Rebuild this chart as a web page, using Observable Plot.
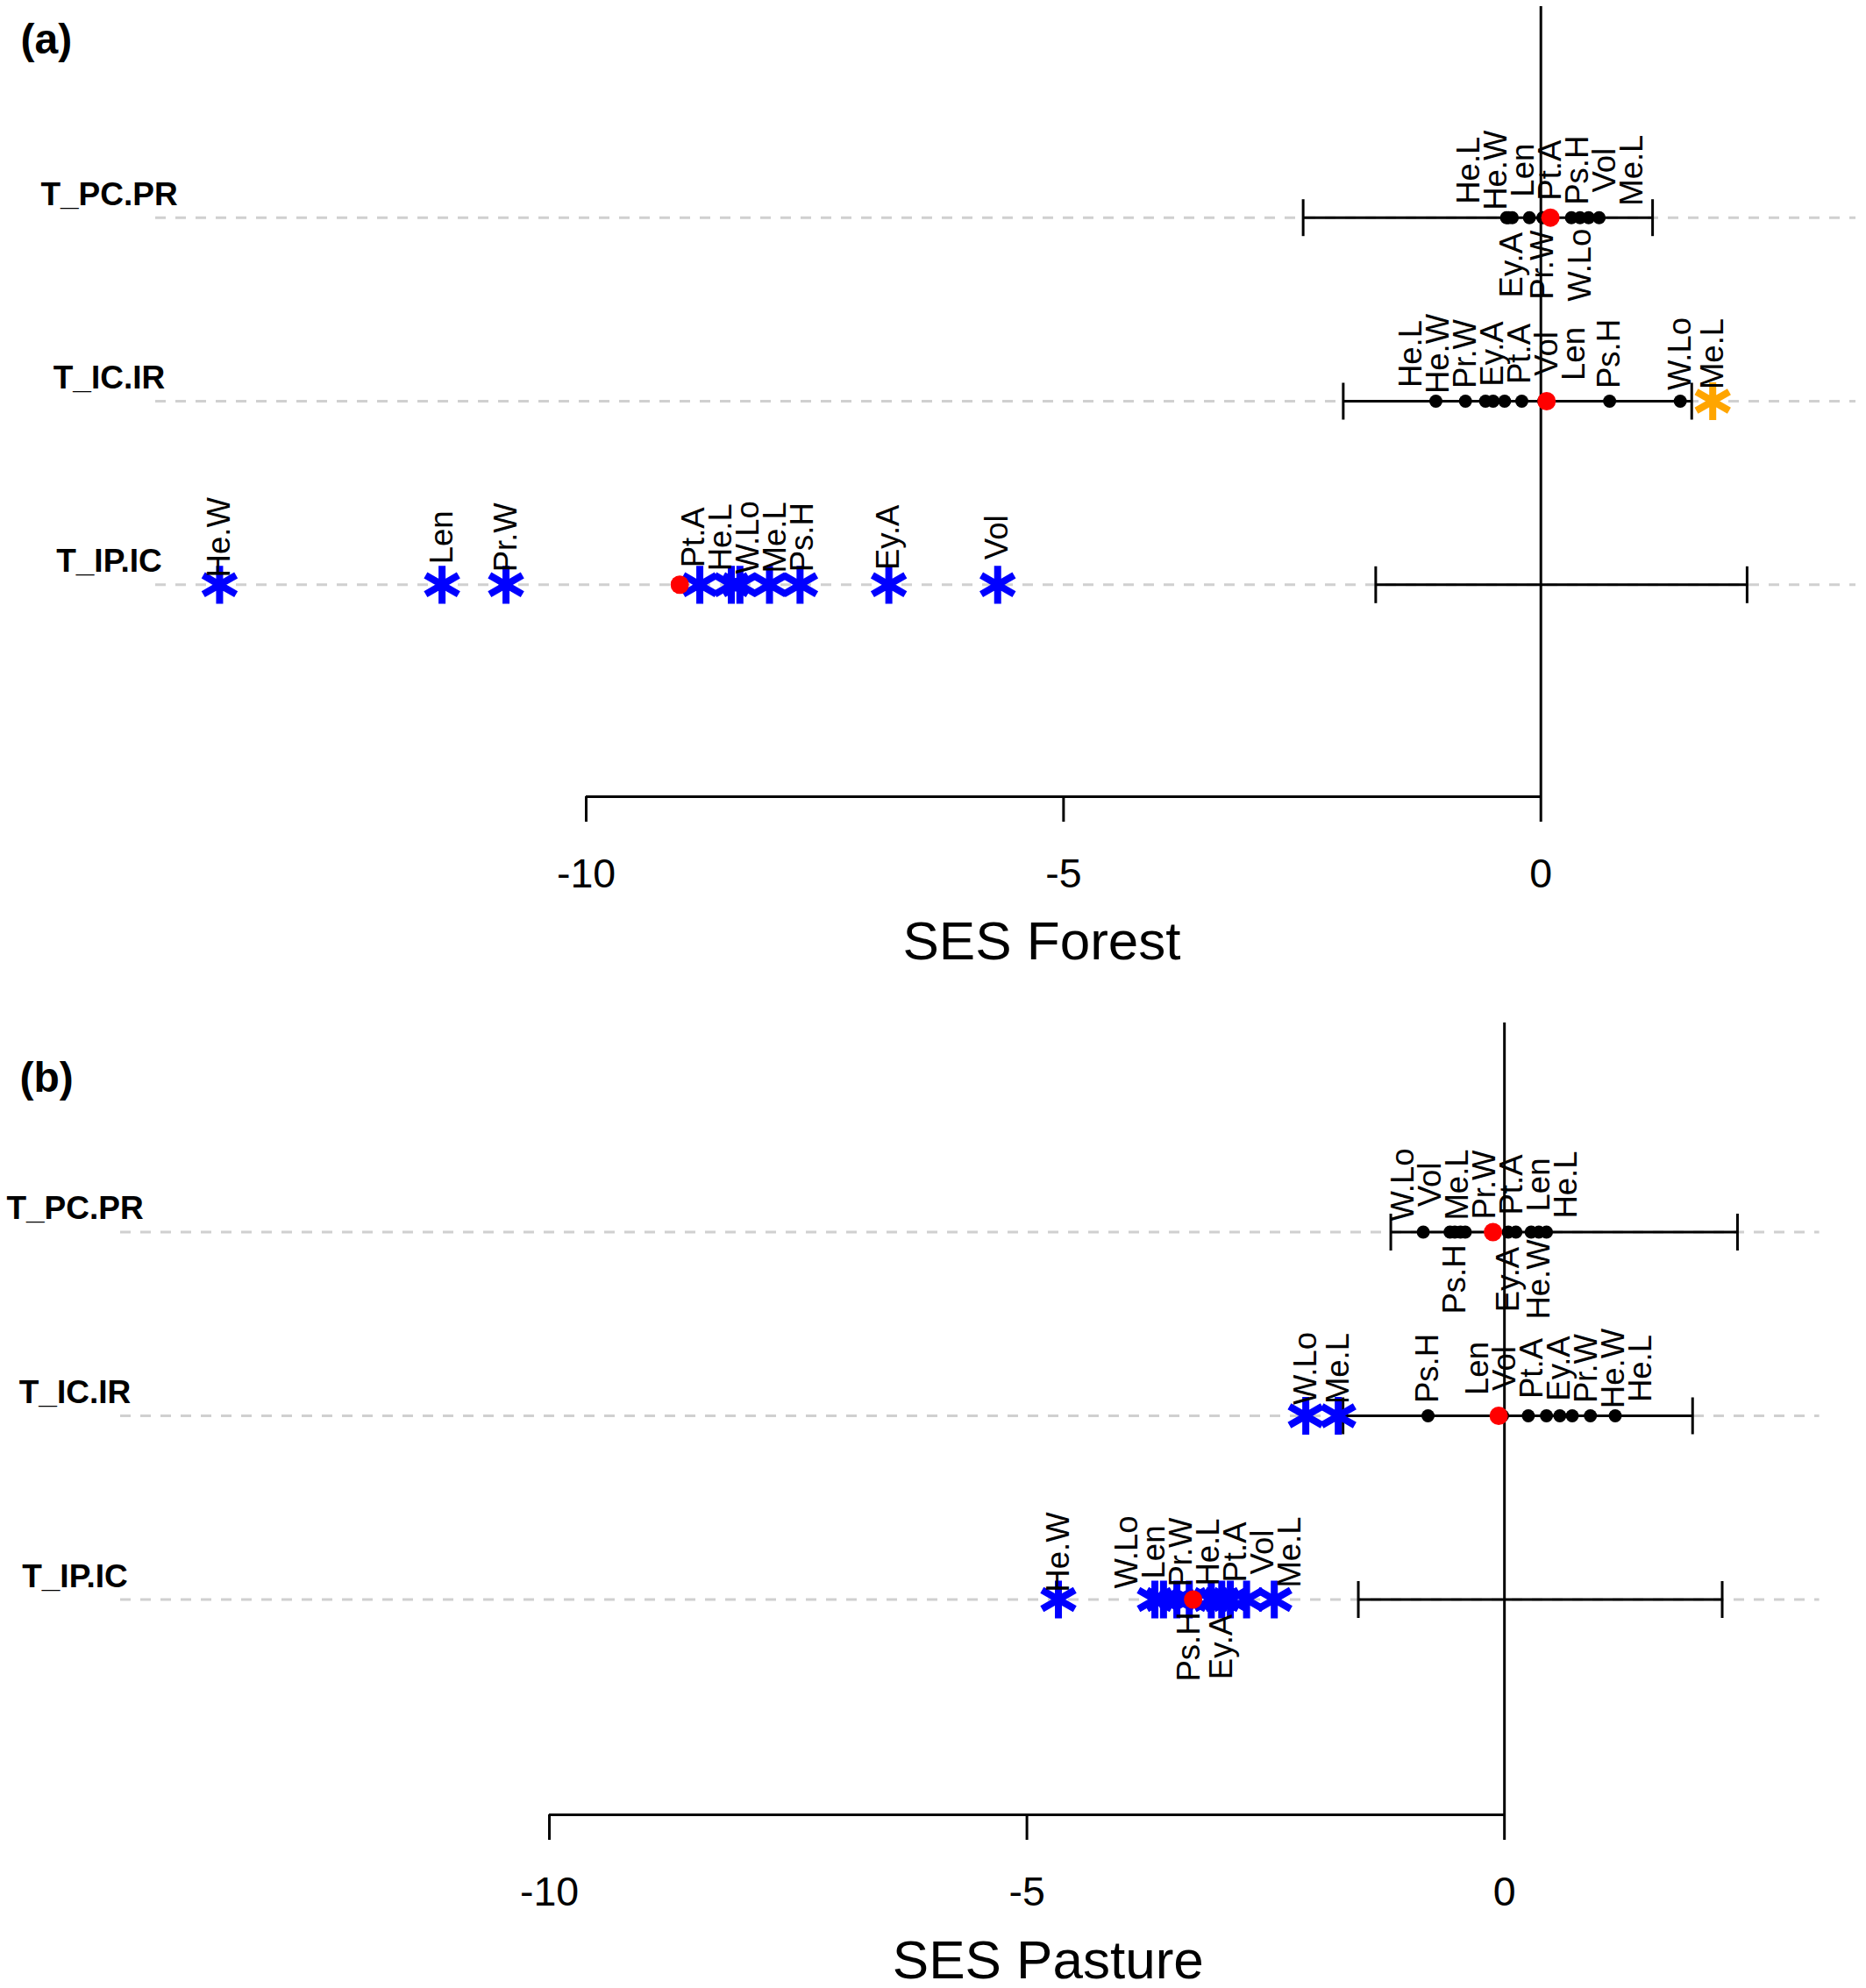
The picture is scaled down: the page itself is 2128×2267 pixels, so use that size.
<!DOCTYPE html>
<html>
<head>
<meta charset="utf-8">
<script src="https://cdn.jsdelivr.net/npm/d3@7"></script>
<script src="https://cdn.jsdelivr.net/npm/@observablehq/plot@0.6"></script>
<style>
html, body { margin: 0; padding: 0; background: #fff; }
#chart svg { display: block; }
</style>
</head>
<body>
<div id="chart"></div>
<script>
// ---------- data ----------
const rowNames = ["T_PC.PR", "T_IC.IR", "T_IP.IC"];
const rowLevels = [3, 2, 1];
const traitNames = ["He.L", "He.W", "Pr.W", "Ey.A", "Pt.A", "Vol", "Len", "Ps.H", "W.Lo", "Me.L"];
const tickValues = [-10, -5, 0];

// (a) SES Forest — one value per trait (order of traitNames)
const forestPCPR = [-0.36, -0.34, 0.02, -0.30, 0.10, 0.50, -0.12, 0.32, 0.41, 0.61];
const forestICIR = [-1.10, -0.79, -0.58, -0.50, -0.38, -0.20, 0.03, 0.72, 1.46, 1.80];
const forestIPIC = [-8.48, -13.84, -10.84, -6.83, -8.81, -5.69, -11.51, -7.76, -8.39, -8.08];
const forestMean = [0.10, 0.06, -9.02];
const forestCILow = [-2.49, -2.07, -1.73];
const forestCIHigh = [1.17, 1.58, 2.16];
const forestSidePCPR = ["above", "above", "below", "below", "above", "above", "above", "above", "below", "above"];
const forestSideICIR = ["above", "above", "above", "above", "above", "above", "above", "above", "above", "above"];
const forestSideIPIC = ["above", "above", "above", "above", "above", "above", "above", "above", "above", "above"];

// (b) SES Pasture
const pasturePCPR = [0.44, 0.36, -0.41, 0.04, 0.12, -0.57, 0.28, -0.52, -0.85, -0.46];
const pastureICIR = [1.16, 0.90, 0.71, 0.58, 0.44, 0.25, -0.02, -0.80, -2.08, -1.74];
const pastureIPIC = [-3.07, -4.67, -3.43, -2.96, -2.87, -2.70, -3.57, -3.30, -3.66, -2.41];
const pastureMean = [-0.12, -0.06, -3.26];
const pastureCILow = [-1.19, -1.69, -1.53];
const pastureCIHigh = [2.44, 1.97, 2.28];
const pastureSidePCPR = ["above", "below", "above", "below", "above", "above", "above", "below", "above", "above"];
const pastureSideICIR = ["above", "above", "above", "above", "above", "above", "above", "above", "above", "above"];
const pastureSideIPIC = ["above", "above", "above", "below", "above", "above", "above", "below", "above", "above"];

// ---------- helpers ----------
const capSymbol = {
  draw(context, size) {
    const r = Math.sqrt(size / Math.PI);
    context.moveTo(0, -r);
    context.lineTo(0, r);
  }
};

function spreadLabels(items, gap) {
  const sorted = items.slice().sort((a, b) => a.px - b.px);
  let clusters = sorted.map(d => ({members: [d], total: d.px}));
  const start = c => c.total / c.members.length - (c.members.length - 1) * gap / 2;
  let merged = true;
  while (merged) {
    merged = false;
    for (let i = 0; i < clusters.length - 1; i++) {
      const a = clusters[i], b = clusters[i + 1];
      if (start(b) - (start(a) + (a.members.length - 1) * gap) < gap) {
        clusters.splice(i, 2, {members: a.members.concat(b.members), total: a.total + b.total});
        merged = true;
        break;
      }
    }
  }
  clusters.forEach(c => {
    const s = start(c);
    c.members.forEach((d, k) => { d.lpx = s + k * gap; });
  });
}

function panel(cfg) {
  const width = 2128;
  const xs = d3.scaleLinear(cfg.xDomain, [cfg.marginLeft, width - cfg.marginRight]);
  const points = [];
  rowNames.forEach((name, i) => {
    cfg.values[i].forEach((v, j) => {
      const kind = v < cfg.ciLow[i] ? "low" : v > cfg.ciHigh[i] ? "high" : "ns";
      points.push({row: rowLevels[i], v, kind, trait: traitNames[j], side: cfg.sides[i][j], px: xs(v)});
    });
  });
  rowLevels.forEach(lv => {
    ["above", "below"].forEach(side => {
      spreadLabels(points.filter(p => p.row === lv && p.side === side), 31);
    });
  });
  points.forEach(p => { p.lx = xs.invert(p.lpx); });

  const rows = rowNames.map((name, i) => ({
    name, row: rowLevels[i], mean: cfg.means[i], lo: cfg.ciLow[i], hi: cfg.ciHigh[i]
  }));
  const caps = rows.flatMap(r => [{x: r.lo, row: r.row}, {x: r.hi, row: r.row}]);

  return Plot.plot({
    width,
    height: cfg.height,
    marginLeft: cfg.marginLeft,
    marginRight: cfg.marginRight,
    marginTop: cfg.marginTop,
    marginBottom: cfg.marginBottom,
    style: {fontFamily: "'Liberation Sans', Arial, sans-serif", background: "#fff", overflow: "visible", color: "#000"},
    x: {domain: cfg.xDomain},
    y: {domain: cfg.yDomain, axis: null},
    marks: [
      Plot.ruleY(rowLevels, {stroke: "#d0d0d0", strokeWidth: 3, strokeDasharray: "12,11"}),
      Plot.ruleY(rows, {y: "row", x1: "lo", x2: "hi", stroke: "#000", strokeWidth: 3}),
      Plot.dot(caps, {x: "x", y: "row", symbol: capSymbol, r: 21, stroke: "#000", strokeWidth: 3}),
      Plot.ruleX([0], {stroke: "#000", strokeWidth: 3}),
      Plot.ruleY([cfg.yDomain[0]], {x1: d3.min(tickValues), x2: d3.max(tickValues), stroke: "#000", strokeWidth: 3}),
      Plot.axisX({ticks: tickValues, tickFormat: d => String(d), tickSize: 29, tickPadding: 41,
        fontSize: 46.5, strokeWidth: 3, label: null}),
      Plot.text([cfg.title], {frameAnchor: "bottom", dx: cfg.titleDx, dy: cfg.titleDy, fontSize: 62,
        lineAnchor: "bottom", textAnchor: "middle"}),
      Plot.text(rows, {y: "row", text: "name", frameAnchor: "left", dx: cfg.rowLabelDx, dy: -14.5,
        textAnchor: "middle", lineAnchor: "bottom", fontWeight: "bold", fontSize: 37}),
      Plot.dot(points.filter(p => p.kind === "ns"), {x: "v", y: "row", r: 7.5, fill: "#000"}),
      Plot.dot(points.filter(p => p.kind === "low"), {x: "v", y: "row", symbol: "asterisk", r: 20.5,
        stroke: "#0000ff", strokeWidth: 8}),
      Plot.dot(points.filter(p => p.kind === "high"), {x: "v", y: "row", symbol: "asterisk", r: 20.5,
        stroke: "#ffa500", strokeWidth: 8}),
      Plot.dot(rows, {x: "mean", y: "row", r: 10.5, fill: "#ff0000"}),
      Plot.text(points.filter(p => p.side === "above"), {x: "lx", y: "row", text: "trait", rotate: -90,
        dy: -54, fontSize: 36.5, textAnchor: "middle", lineAnchor: "middle", fill: "#000"}),
      Plot.text(points.filter(p => p.side === "below"), {x: "lx", y: "row", text: "trait", rotate: -90,
        dy: 54, fontSize: 36.5, textAnchor: "middle", lineAnchor: "middle", fill: "#000"}),
      Plot.text([cfg.letter], {frameAnchor: "top-left", dx: cfg.letterDx, dy: cfg.letterDy,
        fontWeight: "bold", fontSize: 48, textAnchor: "start", lineAnchor: "bottom"})
    ]
  });
}

const chart = document.getElementById("chart");
chart.append(panel({
  letter: "(a)", title: "SES Forest",
  values: [forestPCPR, forestICIR, forestIPIC],
  means: forestMean, ciLow: forestCILow, ciHigh: forestCIHigh,
  sides: [forestSidePCPR, forestSideICIR, forestSideIPIC],
  height: 1133, marginLeft: 177, marginRight: 12, marginTop: 7, marginBottom: 225,
  xDomain: [-14.51, 3.30], yDomain: [-0.1548, 4.15],
  titleDx: 41, titleDy: 185, rowLabelDx: -53, letterDx: -154, letterDy: 53
}));
chart.append(panel({
  letter: "(b)", title: "SES Pasture",
  values: [pasturePCPR, pastureICIR, pastureIPIC],
  means: pastureMean, ciLow: pastureCILow, ciHigh: pastureCIHigh,
  sides: [pastureSidePCPR, pastureSideICIR, pastureSideIPIC],
  height: 1134, marginLeft: 137, marginRight: 53.4, marginTop: 33, marginBottom: 198,
  xDomain: [-14.49, 3.30], yDomain: [-0.1718, 4.1384],
  titleDx: 89, titleDy: 186, rowLabelDx: -52, letterDx: -115, letterDy: 78
}));
</script>
</body>
</html>
